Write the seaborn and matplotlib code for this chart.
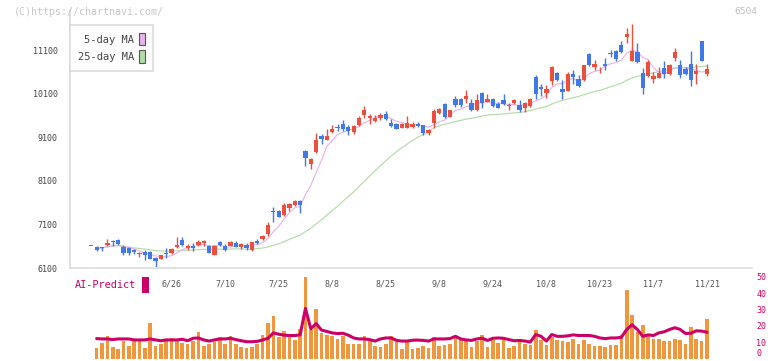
import numpy as np
import pandas as pd
import matplotlib
matplotlib.use("Agg")
import matplotlib.pyplot as plt
from matplotlib.patches import Patch, Rectangle
import seaborn as sns

# ---------------- data ----------------
tick_idx = [15, 25, 35, 45, 55, 65, 75, 85, 95, 105, 115]
tick_labels = ["6/26", "7/10", "7/25", "8/8", "8/25", "9/8", "9/24",
               "10/8", "10/23", "11/7", "11/21"]
price_ticks = [6100, 7100, 8100, 9100, 10100, 11100]

opens = [6597, 6588, 6574, 6627, 6711, 6748, 6588, 6551, 6512, 6414,
         6466, 6466, 6322, 6313, 6436, 6437, 6581, 6741, 6551, 6611,
         6627, 6680, 6611, 6398, 6688, 6611, 6604, 6680, 6588, 6627,
         6512, 6718, 6757, 6872, 7390, 7398, 7314, 7467, 7543, 7640,
         8786, 8488, 8763, 9130, 9047, 9221, 9322, 9414, 9336, 9221,
         9375, 9604, 9542, 9473, 9542, 9643, 9436, 9398, 9322, 9322,
         9345, 9414, 9375, 9185, 9427, 9656, 9856, 9565, 9970, 9970,
         9986, 9886, 9718, 10115, 9909, 9970, 9856, 9947, 9818, 9894,
         9833, 9780, 9817, 10480, 10252, 10115, 10389, 10573, 10199, 10161,
         10543, 10443, 10405, 11000, 10710, 10630, 10787, 11023, 11076, 11207,
         11397, 10847, 11053, 10581, 10504, 10428, 10466, 10695, 10543, 10916,
         10764, 10673, 10787, 10543, 11298, 10543]
highs = [6610, 6604, 6580, 6764, 6741, 6764, 6627, 6580, 6530, 6470,
         6512, 6496, 6360, 6400, 6558, 6558, 6810, 6810, 6650, 6672,
         6741, 6741, 6620, 6620, 6720, 6660, 6718, 6718, 6680, 6680,
         6700, 6764, 6850, 7153, 7490, 7420, 7582, 7580, 7650, 7650,
         8802, 8620, 9191, 9168, 9283, 9390, 9414, 9489, 9390, 9370,
         9581, 9810, 9643, 9604, 9650, 9695, 9512, 9420, 9430, 9581,
         9440, 9440, 9390, 9290, 9741, 9770, 9879, 9730, 10039, 10000,
         10176, 9970, 10084, 10130, 10084, 9990, 9901, 10084, 9886, 9970,
         9947, 9910, 10000, 10520, 10314, 10290, 10726, 10600, 10405, 10588,
         10650, 10520, 10760, 11023, 10863, 10710, 10909, 11090, 11090, 11300,
         11612, 11688, 11268, 10687, 10860, 10596, 10710, 10840, 10772, 11145,
         10863, 10700, 11069, 10772, 11310, 10787]
lows = [6597, 6480, 6489, 6604, 6604, 6627, 6398, 6400, 6420, 6350,
        6290, 6300, 6130, 6300, 6329, 6420, 6565, 6610, 6512, 6500,
        6600, 6604, 6440, 6398, 6600, 6500, 6600, 6580, 6540, 6520,
        6500, 6660, 6741, 6833, 7160, 7260, 7300, 7405, 7530, 7352,
        8443, 8367, 8733, 8940, 9030, 9185, 9237, 9244, 9154, 9168,
        9360, 9542, 9414, 9450, 9500, 9500, 9340, 9280, 9310, 9310,
        9300, 9330, 9146, 9160, 9313, 9640, 9550, 9560, 9794, 9800,
        9879, 9700, 9700, 9764, 9900, 9800, 9760, 9840, 9733, 9860,
        9672, 9672, 9800, 9986, 10040, 9993, 10290, 10390, 9970, 10150,
        10314, 10250, 10382, 10740, 10634, 10570, 10634, 10930, 10840, 11040,
        11268, 10847, 10810, 10085, 10490, 10344, 10450, 10466, 10530, 10840,
        10466, 10530, 10275, 10314, 10840, 10504]
closes = [6604, 6506, 6558, 6680, 6688, 6650, 6436, 6450, 6466, 6450,
          6390, 6313, 6267, 6390, 6421, 6535, 6627, 6627, 6611, 6551,
          6702, 6718, 6450, 6611, 6627, 6512, 6695, 6588, 6650, 6565,
          6695, 6672, 6833, 7092, 7375, 7275, 7543, 7566, 7634, 7543,
          8626, 8596, 9031, 9070, 9130, 9290, 9306, 9283, 9244, 9352,
          9542, 9718, 9588, 9551, 9604, 9512, 9359, 9299, 9414, 9436,
          9414, 9359, 9185, 9260, 9702, 9757, 9565, 9718, 9833, 9840,
          10046, 9718, 9947, 9894, 9970, 9817, 9780, 9856, 9833, 9947,
          9718, 9894, 9986, 10100, 10199, 10199, 10710, 10405, 10138, 10543,
          10481, 10275, 10749, 10749, 10787, 10645, 10733, 11010, 10886, 11053,
          11459, 11069, 10824, 10238, 10824, 10504, 10573, 10543, 10749, 11053,
          10535, 10543, 10420, 10619, 10847, 10657]
volume = [np.nan, 6.6, 9.7, 13.9, 7.2, 5.9, 10.9, 7.8, 10.9, 10.9,
          6.6, 21.6, 7.8, 8.6, 10.9, 12.6, 10.9, 9.7, 8.6, 10.9,
          16.1, 7.8, 8.6, 10.3, 13.0, 8.6, 13.9, 8.6, 7.2, 6.6,
          7.2, 8.6, 14.7, 21.6, 25.9, 13.0, 16.6, 13.9, 11.4, 17.8,
          49.7, 17.2, 30.3, 15.9, 14.7, 13.9, 12.2, 13.9, 9.1, 8.6,
          9.1, 13.9, 10.5, 7.8, 7.2, 8.6, 13.9, 10.3, 5.9, 9.9,
          5.8, 6.6, 7.8, 6.6, 13.4, 7.8, 8.4, 8.6, 14.7, 11.4,
          10.9, 7.2, 10.5, 14.7, 7.2, 11.6, 9.7, 13.4, 6.6, 7.8,
          10.3, 8.6, 8.4, 17.2, 11.6, 8.4, 13.4, 11.1, 10.9, 9.9,
          12.2, 9.1, 11.1, 9.1, 7.8, 7.4, 7.0, 8.4, 8.4, 14.3,
          41.8, 26.6, 16.4, 20.3, 14.1, 11.8, 12.2, 10.9, 10.9, 12.2,
          11.6, 9.1, 19.1, 12.2, 10.5, 24.1]
ai_predict = [np.nan, 12.2, 12.0, 12.0, 11.6, 12.0, 12.0, 12.0, 11.4, 11.4,
              11.4, 12.0, 11.4, 10.9, 11.4, 11.4, 11.4, 11.8, 10.9, 12.4,
              12.6, 11.4, 10.7, 11.4, 12.0, 12.0, 12.4, 11.6, 10.9, 10.3,
              10.3, 10.5, 11.4, 12.4, 15.7, 14.9, 14.3, 14.1, 14.1, 14.5,
              30.7, 18.2, 21.4, 17.4, 16.6, 15.7, 15.3, 15.5, 14.3, 12.6,
              12.0, 12.0, 11.6, 10.7, 12.0, 12.6, 12.6, 11.1, 10.7, 10.7,
              11.2, 11.3, 11.1, 10.7, 12.0, 12.0, 12.0, 12.2, 13.6, 12.0,
              11.4, 11.1, 12.0, 12.4, 11.1, 12.4, 12.6, 12.4, 11.6, 10.9,
              11.1, 10.7, 10.1, 14.7, 13.6, 10.7, 14.7, 13.6, 13.6, 13.9,
              14.5, 14.1, 14.1, 14.1, 13.6, 12.6, 12.2, 12.6, 12.6, 13.0,
              17.8, 20.7, 17.8, 13.6, 14.5, 14.1, 15.7, 16.4, 17.8, 18.9,
              17.8, 15.3, 15.5, 17.0, 16.8, 16.1]

# ---------------- styling ----------------
sns.set_theme(style="white")
plt.rcParams["font.family"] = ["DejaVu Sans Mono", "DejaVu Sans"]

UP = "#f04e3c"
DOWN = "#3f78e8"
MA5_C = "#e8b4ec"
MA25_C = "#b4dca8"
VOL_C = "#f0963c"
AI_C = "#cc0066"
AXC = "#dcdcdc"

n = len(closes)
df = pd.DataFrame({"i": np.arange(n), "open": opens, "high": highs,
                   "low": lows, "close": closes, "volume": volume,
                   "ai": ai_predict})
df["ma5"] = df["close"].rolling(5, min_periods=1).mean()
df["ma25"] = df["close"].rolling(25, min_periods=1).mean()
df.loc[0, ["ma5", "ma25"]] = np.nan

W, H = 772, 361
fig = plt.figure(figsize=(W / 100, H / 100), dpi=100)
x0, x1 = (70 - 91.3) / 5.354, (752 - 91.3) / 5.354

ax = fig.add_axes([70 / W, (H - 268) / H, 682 / W, 258 / H])
ax2 = fig.add_axes([70 / W, 2.5 / H, 682 / W, 81.5 / H])
for a in (ax, ax2):
    a.set_facecolor("none")
    a.set_xlim(x0, x1)
ax2.set_zorder(0)
ax.set_zorder(1)

# moving averages
sns.lineplot(data=df, x="i", y="ma25", ax=ax, color=MA25_C, lw=0.85, zorder=1)
sns.lineplot(data=df, x="i", y="ma5", ax=ax, color=MA5_C, lw=0.85, zorder=1)

# candles
up = df["close"] >= df["open"]
colors = np.where(up, UP, DOWN)
body_lo = np.minimum(df["open"], df["close"])
body_h = np.maximum(np.abs(df["close"] - df["open"]), 22)
ax.vlines(df["i"], df["low"], df["high"], colors=colors, lw=1.0, zorder=2)
ax.bar(df["i"], body_h, bottom=body_lo, width=0.8, color=colors,
       linewidth=0, zorder=3)

ax.set_ylim(6100, 6100 + 258 / 0.0436)
ax.set_yticks(price_ticks)
ax.set_yticklabels([str(v) for v in price_ticks], fontsize=6, color="#444444")
ax.tick_params(axis="y", direction="out", length=5, width=1, color=AXC, pad=4)
ax.set_xticks(tick_idx)
ax.set_xticklabels(tick_labels, fontsize=6, color="#555555")
ax.set_xticks(np.linspace(x0, x1, 12), minor=True)
ax.tick_params(axis="x", which="major", length=0, pad=8.5)
ax.tick_params(axis="x", which="minor", direction="inout", length=8,
               width=1, color=AXC)
ax.set_xlabel("")
ax.set_ylabel("")
for s in ("top", "right"):
    ax.spines[s].set_visible(False)
for s in ("left", "bottom"):
    ax.spines[s].set_color(AXC)
    ax.spines[s].set_linewidth(1.2)

# legend
handles = [Patch(facecolor=MA5_C, edgecolor="#555555", lw=0.8),
           Patch(facecolor=MA25_C, edgecolor="#555555", lw=0.8)]
leg = ax.legend(handles, ["5-day MA", "25-day MA"], loc="upper left",
                bbox_to_anchor=(0.0, 0.942), markerfirst=False,
                handlelength=0.55, handleheight=1.5, handletextpad=0.5,
                fontsize=7.5, frameon=True, fancybox=False, framealpha=1,
                edgecolor=AXC, borderpad=0.75, labelspacing=0.45,
                borderaxespad=0)
for t in leg.get_texts():
    t.set_color("#444444")
leg.get_frame().set_linewidth(1.2)

# volume + AI predict
ax2.bar(df["i"], df["volume"], width=0.68, color=VOL_C, linewidth=0, zorder=1)
sns.lineplot(data=df, x="i", y="ai", ax=ax2, color=AI_C, lw=2.2, zorder=2)
ax2.set_ylim(0, 50)
ax2.set_xticks([])
ax2.yaxis.tick_right()
ax2.set_yticks([0, 10, 20, 30, 40, 50])
ax2.set_yticklabels(["0", "10", "20", "30", "40", "50"], fontsize=6,
                    color=AI_C)
ax2.get_yticklabels()[0].set_va("bottom")
ax2.tick_params(axis="y", length=0, pad=3)
ax2.set_xlabel("")
ax2.set_ylabel("")
for s in ax2.spines.values():
    s.set_visible(False)

# texts
fig.text(14 / W, 1 - 12 / H, "(C)https://chartnavi.com/", fontsize=7.2,
         color="#c8c8c8", va="center", ha="left")
fig.text(757 / W, 1 - 12 / H, "6504", fontsize=6.8, color="#c0c0c0",
         va="center", ha="right")
fig.text(75 / W, 1 - 285 / H, "AI-Predict", fontsize=7.4, color=AI_C,
         va="center", ha="left")
fig.patches.append(Rectangle((142 / W, 1 - 292.5 / H), 7 / W, 16 / H,
                             transform=fig.transFigure, facecolor=AI_C,
                             edgecolor="none"))

fig.savefig("out.png", dpi=100)
